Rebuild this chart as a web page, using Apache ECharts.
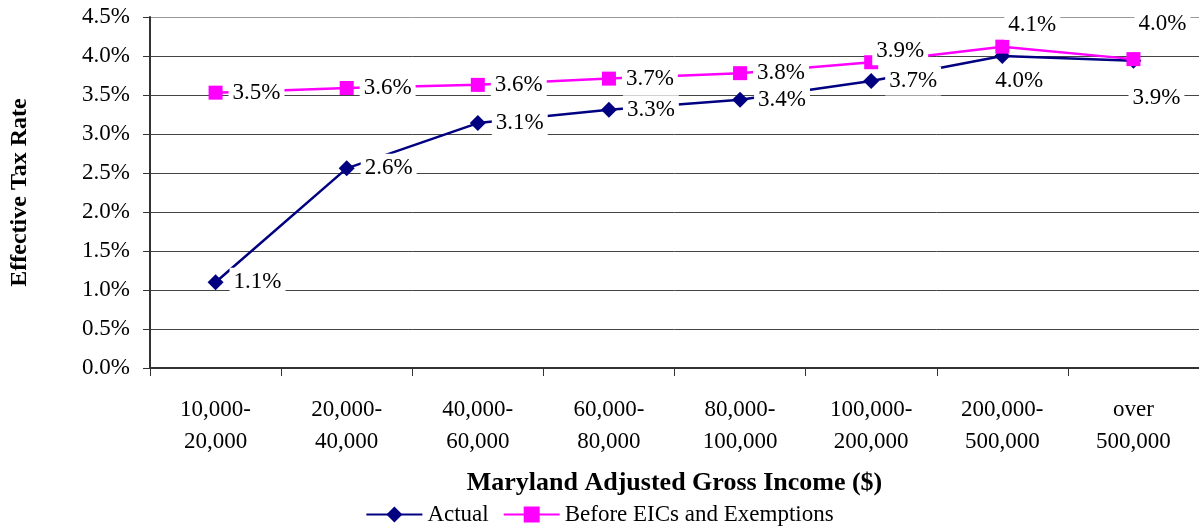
<!DOCTYPE html>
<html>
<head>
<meta charset="utf-8">
<script src="https://cdn.jsdelivr.net/npm/echarts@6/dist/echarts.min.js"></script>
<style>
  html, body { margin: 0; padding: 0; background: #fff; }
  #chart { width: 1199px; height: 531px; }
</style>
</head>
<body>
<div id="chart"></div>
<script>
const categories = ['10,000-\n20,000', '20,000-\n40,000', '40,000-\n60,000', '60,000-\n80,000',
  '80,000-\n100,000', '100,000-\n200,000', '200,000-\n500,000', 'over\n500,000'];
const actual = [1.10, 2.56, 3.14, 3.31, 3.44, 3.68, 4.00, 3.94];
const beforeEIC = [3.53, 3.59, 3.63, 3.71, 3.78, 3.92, 4.12, 3.96];
const yTicks = [0, 0.5, 1, 1.5, 2, 2.5, 3, 3.5, 4, 4.5];

const font = 'Liberation Serif, Times New Roman, serif';

// labels that don't sit to the right of their point
const actualLabelTweak = {
  6: { position: 'bottom', offset: [17, -4] },
  7: { position: 'bottom', offset: [23, 9] }
};
const beforeLabelTweak = {
  5: { position: 'top', offset: [29, 16] },
  6: { position: 'top', offset: [30, 6] },
  7: { position: 'top', offset: [29, -8] }
};

const baseLabel = {
  show: true,
  position: 'right',
  distance: 6,
  fontFamily: font,
  fontSize: 23,
  color: '#000',
  backgroundColor: '#fff',
  padding: [3, 4],
  formatter: p => p.value.toFixed(1) + '%'
};

function withLabels(values, tweaks) {
  return values.map((v, i) => tweaks[i] ? { value: v, label: tweaks[i] } : v);
}

const myChart = echarts.init(document.getElementById('chart'));
const option = {
  animation: false,
  textStyle: { fontFamily: font },
  grid: { left: 149, right: -2, top: 17, bottom: 163 },
  legend: {
    bottom: 0,
    left: 'center',
    itemWidth: 56,
    itemHeight: 20,
    itemGap: 14,
    textStyle: { fontFamily: font, fontSize: 23, color: '#000' },
    data: ['Actual', 'Before EICs and Exemptions']
  },
  xAxis: {
    type: 'category',
    data: categories,
    name: 'Maryland Adjusted Gross Income ($)',
    nameLocation: 'middle',
    nameGap: 102,
    nameTextStyle: { fontFamily: font, fontSize: 26, fontWeight: 'bold', color: '#000' },
    axisLine: { lineStyle: { color: '#333', width: 2 } },
    axisTick: { show: true, length: 8, inside: false, lineStyle: { color: '#333' } },
    axisLabel: { fontFamily: font, fontSize: 23, color: '#000', margin: 26, lineHeight: 32 }
  },
  yAxis: {
    type: 'value',
    min: 0,
    max: yTicks[yTicks.length - 1],
    interval: 0.5,
    name: 'Effective Tax Rate',
    nameLocation: 'middle',
    nameGap: 118,
    nameRotate: 90,
    nameTextStyle: { fontFamily: font, fontSize: 24, fontWeight: 'bold', color: '#000' },
    axisLine: { show: true, lineStyle: { color: '#333', width: 2 } },
    axisTick: { show: true, length: 7, lineStyle: { color: '#333' } },
    axisLabel: { fontFamily: font, fontSize: 23, color: '#000', margin: 20,
      formatter: v => v.toFixed(1) + '%' },
    splitLine: { lineStyle: { color: ['#444', '#444', '#444', '#444', '#444', '#444', '#444', '#444', '#444', '#999'], width: 1 } }
  },
  series: [
    {
      name: 'Actual',
      type: 'line',
      data: withLabels(actual, actualLabelTweak),
      symbol: 'diamond',
      symbolSize: 16,
      color: '#000080',
      lineStyle: { width: 2.5, color: '#000080' },
      itemStyle: { color: '#000080' },
      label: baseLabel,
      z: 2
    },
    {
      name: 'Before EICs and Exemptions',
      type: 'line',
      data: withLabels(beforeEIC, beforeLabelTweak),
      symbol: 'rect',
      symbolSize: 14,
      color: '#ff00ff',
      lineStyle: { width: 2.5, color: '#ff00ff' },
      itemStyle: { color: '#ff00ff' },
      label: baseLabel,
      z: 3
    }
  ]
};
option && myChart.setOption(option);
</script>
</body>
</html>
